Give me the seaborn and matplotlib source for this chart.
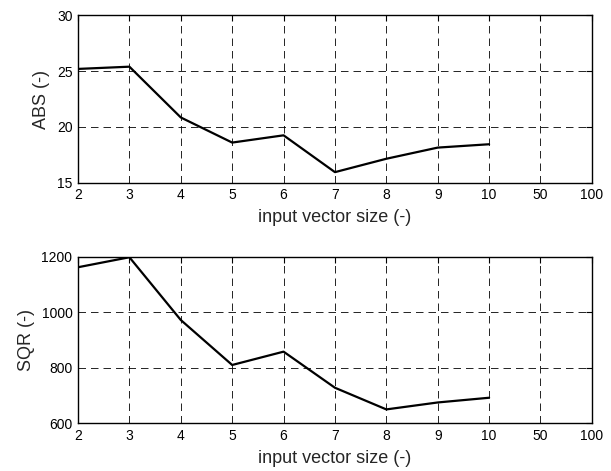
import pandas as pd
import matplotlib
matplotlib.use("Agg")
import matplotlib.pyplot as plt
import seaborn as sns

# Tick labels of the x axis (equally spaced, categorical)
size_labels = ["2", "3", "4", "5", "6", "7", "8", "9", "10", "50", "100"]

# Measured input sizes (only 2..10 have values)
sizes = ["2", "3", "4", "5", "6", "7", "8", "9", "10"]
abs_values = [25.2, 25.4, 20.85, 18.6, 19.25, 15.95, 17.15, 18.15, 18.45]
sqr_values = [1162, 1198, 972, 810, 858, 728, 650, 675, 692]

sns.set_style("white")
plt.rcParams['font.family'] = ['Liberation Sans', 'DejaVu Sans']

df = pd.DataFrame({
    "pos": [size_labels.index(s) for s in sizes],
    "ABS": abs_values,
    "SQR": sqr_values,
})

fig = plt.figure(figsize=(6.11, 4.71), dpi=100)
ax1 = fig.add_axes([0.1277, 0.612, 0.841, 0.3554])
ax2 = fig.add_axes([0.1277, 0.1013, 0.841, 0.3537])

panels = [
    (ax1, "ABS", "ABS (-)", (15, 30), [15, 20, 25, 30]),
    (ax2, "SQR", "SQR (-)", (600, 1200), [600, 800, 1000, 1200]),
]

for ax, col, ylab, ylim, yticks in panels:
    sns.lineplot(data=df, x="pos", y=col, ax=ax, color="black", linewidth=1.6)
    ax.set_xlim(0, len(size_labels) - 1)
    ax.set_ylim(*ylim)
    ax.set_xticks(range(len(size_labels)))
    ax.set_xticklabels(size_labels)
    ax.set_yticks(yticks)
    ax.set_xlabel("input vector size (-)", fontsize=13, labelpad=5)
    ax.set_ylabel(ylab, fontsize=13, labelpad=5)
    ax.tick_params(direction="in", length=4, width=0.8, labelsize=10,
                   top=True, right=True, colors="black", pad=4)
    ax.grid(True, color="black", linestyle=(0, (9, 6)), linewidth=0.6)
    for sp in ax.spines.values():
        sp.set_color("black")
        sp.set_linewidth(1.0)

fig.savefig("out.png", dpi=100)
